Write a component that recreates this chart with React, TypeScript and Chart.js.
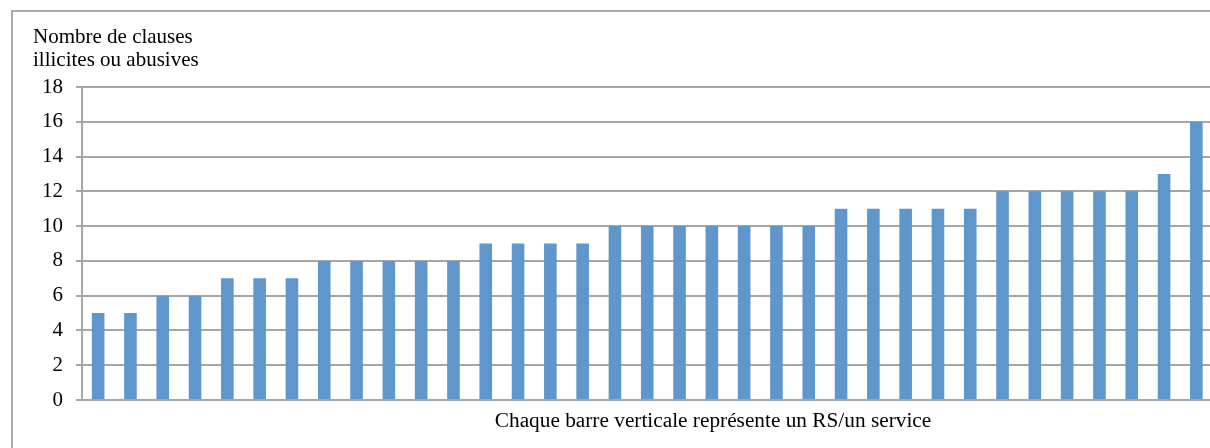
import React, { useEffect, useRef } from "react";
import { Chart, registerables } from "chart.js";

Chart.register(...registerables);

const categories: string[] = Array.from({ length: 35 }, (_, i) => `RS ${i + 1}`);
const clauseCounts: number[] = [
  5, 5, 6, 6, 7, 7, 7, 8, 8, 8, 8, 8, 9, 9, 9, 9, 10, 10, 10, 10, 10, 10, 10,
  11, 11, 11, 11, 11, 12, 12, 12, 12, 12, 13, 16,
];
const yTitleLines: string[] = ["Nombre de clauses", "illicites ou abusives"];
const xTitle = "Chaque barre verticale représente un RS/un service";
const yMin = 0;
const yMax = 18;
const yStep = 2;

const FONT_FAMILY = '"Liberation Serif", "Times New Roman", serif';
const FONT_SIZE = 21;
const GRID = "#a6a6a6";
const BAR = "#5f96cc";

export default function App() {
  const ref = useRef<HTMLCanvasElement | null>(null);

  useEffect(() => {
    const canvas = ref.current;
    if (!canvas) return;

    const decor = {
      id: "decor",
      beforeDraw(chart: any) {
        const ctx = chart.ctx;
        ctx.save();
        ctx.fillStyle = "#ffffff";
        ctx.fillRect(0, 0, chart.width, chart.height);
        ctx.strokeStyle = "#8f8f8f";
        ctx.lineWidth = 1.5;
        ctx.beginPath();
        ctx.moveTo(12, chart.height + 5);
        ctx.lineTo(12, 11);
        ctx.lineTo(chart.width + 5, 11);
        ctx.stroke();
        ctx.restore();
      },
      afterDraw(chart: any) {
        const ctx = chart.ctx;
        ctx.save();
        ctx.fillStyle = "#000000";
        ctx.font = `${FONT_SIZE}px ${FONT_FAMILY}`;
        ctx.textBaseline = "alphabetic";
        ctx.textAlign = "left";
        yTitleLines.forEach((line, i) => {
          ctx.fillText(line, 33, 42.5 + i * 23);
        });
        ctx.font = `21.3px ${FONT_FAMILY}`;
        ctx.textAlign = "center";
        ctx.fillText(xTitle, 713, 427);
        ctx.restore();
      },
    };

    const chart = new Chart(canvas, {
      type: "bar",
      data: {
        labels: categories,
        datasets: [
          {
            data: clauseCounts,
            backgroundColor: BAR,
            borderWidth: 0,
            barPercentage: 0.39,
            categoryPercentage: 1,
          },
        ],
      },
      options: {
        responsive: false,
        animation: false,
        devicePixelRatio: 1,
        layout: { padding: { left: 0, right: 17.5, top: 87, bottom: 48 } },
        plugins: {
          legend: { display: false },
          tooltip: { enabled: false },
          title: { display: false },
        },
        scales: {
          x: {
            display: false,
            offset: true,
            grid: { display: false },
          },
          y: {
            min: yMin,
            max: yMax,
            afterFit(scale: any) {
              scale.width = 82;
            },
            ticks: {
              stepSize: yStep,
              padding: 13,
              color: "#000000",
              font: { family: FONT_FAMILY, size: FONT_SIZE },
            },
            grid: {
              color: GRID,
              lineWidth: 2,
              drawTicks: true,
              tickLength: 6,
              tickColor: GRID,
            },
            border: { display: true, color: GRID, width: 2 },
          },
        },
      },
      plugins: [decor],
    });

    return () => chart.destroy();
  }, []);

  return (
    <div
      style={{
        position: "fixed",
        left: 0,
        top: 0,
        width: 1210,
        height: 448,
        overflow: "hidden",
        background: "#ffffff",
      }}
    >
      <canvas
        ref={ref}
        width={1230}
        height={448}
        style={{ display: "block", width: 1230, height: 448 }}
      />
    </div>
  );
}
